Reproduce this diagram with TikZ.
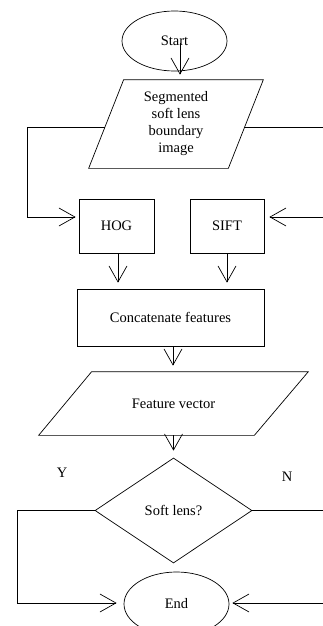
\documentclass[tikz,border=0pt]{standalone}
\usepackage{fontspec}
\setmainfont{Liberation Serif}
\usetikzlibrary{shapes.geometric,arrows.meta}
\tikzset{
  flow/.style={draw, line width=0.7pt, align=center, inner sep=0pt, font=\fontsize{14.5}{17}\selectfont},
  term/.style={flow, ellipse, minimum width=105pt, minimum height=60pt},
  io/.style={flow, draw=none, rectangle},
  proc/.style={flow, rectangle, minimum height=54pt},
  slant/.style={line width=0.7pt},
  arr/.style={line width=0.7pt, -{Straight Barb[length=16pt,width=18pt]}},
  lbl/.style={font=\fontsize{14.5}{17}\selectfont}
}
\begin{document}
\begin{tikzpicture}[x=1pt,y=-1pt]
  \clip (0,0) rectangle (323,626);
  % boxes
  \node[term] (start) at (174.5,41) {Start};
  \node[io, minimum width=174pt, minimum height=88pt] (seg) at (176,124) {Segmented\\soft lens\\boundary\\image};
  \draw[slant] ([xshift=35pt]seg.north west) -- (seg.north east) -- ([xshift=-35pt]seg.south east) -- (seg.south west) -- cycle;
  \node[proc, minimum width=75pt] (hog) at (116.5,226) {HOG};
  \node[proc, minimum width=74pt] (sift) at (227,226) {SIFT};
  \node[proc, minimum width=187pt, minimum height=57pt] (cat) at (170.5,317.5) {Concatenate features};
  \node[io, minimum width=269pt, minimum height=63pt] (fv) at (173.5,403.5) {Feature vector};
  \draw[slant] ([xshift=53pt]fv.north west) -- (fv.north east) -- ([xshift=-54pt]fv.south east) -- (fv.south west) -- cycle;
  \node[flow, diamond, minimum width=157pt, minimum height=105pt] (dec) at (173.5,510.5) {Soft lens?};
  \node[term, minimum height=64pt] (end) at (176.5,604) {End};
  \node[lbl] (yes) at (62,473) {Y};
  \node[lbl] (no) at (287,477) {N};
  % bends
  \coordinate (hogin) at (27,217);
  \coordinate (siftin) at (335,217);
  \coordinate (yin) at (17,603);
  \coordinate (nin) at (335,603);
  % arrows
  \draw[arr, shorten >=5pt] ([xshift=5.5pt,yshift=-2pt]start.center) -- ([xshift=5.5pt]start.center |- seg.north);
  \draw[arr, shorten >=3pt] ([xshift=16pt,yshift=-3pt]seg.west) -| (hogin) |- ([yshift=9pt]hog.west);
  \draw[arr, shorten >=5pt] ([xshift=-19pt,yshift=-3pt]seg.east) -| (siftin) |- ([yshift=9pt]sift.east);
  \draw[arr, shorten >=6pt] ([xshift=1.5pt]hog.south) -- ([xshift=1.5pt]hog.south |- cat.north);
  \draw[arr, shorten >=6pt] (sift.south) -- (sift.south |- cat.north);
  \draw[arr, shorten >=6pt] ([xshift=2.5pt]cat.south) -- ([xshift=2.5pt]cat.south |- fv.north);
  \draw[arr, shorten >=7pt] (fv.south) -- (dec.north);
  \draw[arr, shorten >=7pt] (dec.west) -| (yin) |- ([yshift=1pt]end.west);
  \draw[arr, shorten >=3pt] (dec.east) -| (nin) |- ([yshift=1pt]end.east);
\end{tikzpicture}
\end{document}
